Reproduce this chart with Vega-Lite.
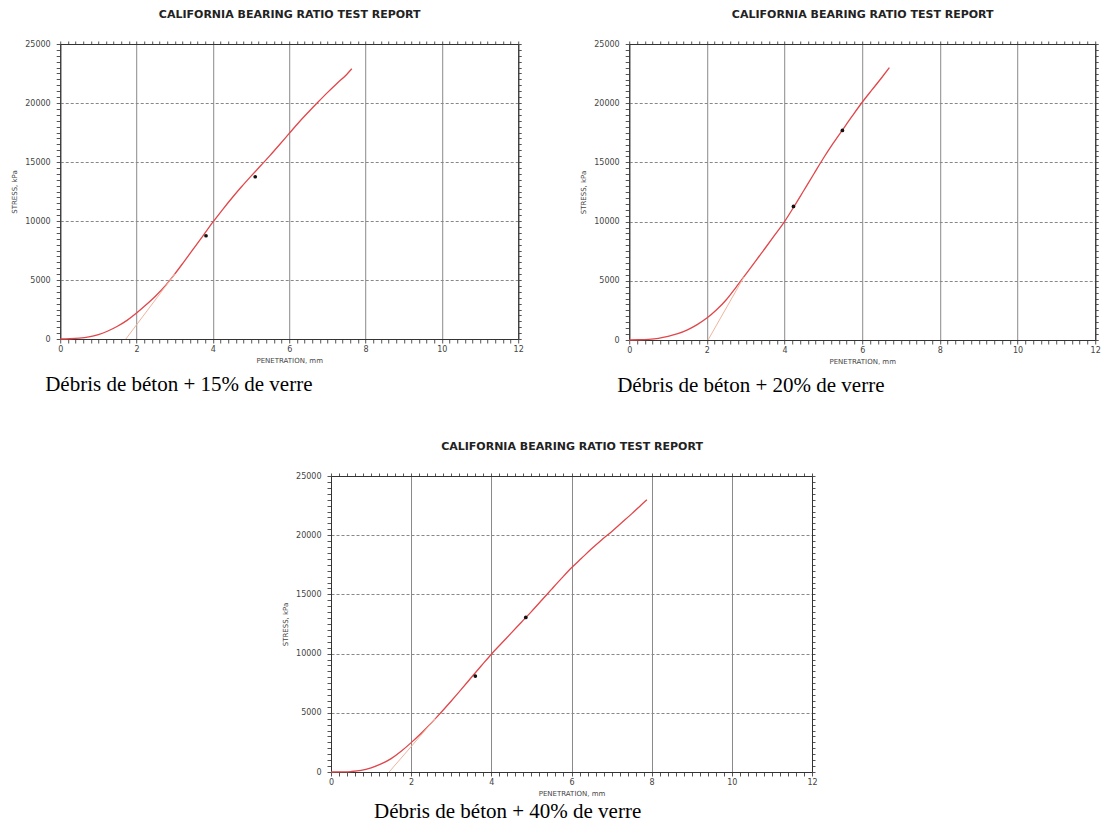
{
  "$schema": "https://vega.github.io/schema/vega-lite/v6.json",
  "background": "white",
  "padding": {"left": 10, "top": 8, "right": 0, "bottom": 0},
  "autosize": {"type": "pad"},
  "datasets": {
    "c15": [{"pen":0,"stress":0},{"pen":0.25,"stress":20},{"pen":0.5,"stress":70},{"pen":0.75,"stress":180},{"pen":1,"stress":380},{"pen":1.25,"stress":680},{"pen":1.5,"stress":1080},{"pen":1.75,"stress":1580},{"pen":2,"stress":2200},{"pen":2.25,"stress":2900},{"pen":2.5,"stress":3650},{"pen":2.75,"stress":4500},{"pen":3,"stress":5500},{"pen":3.25,"stress":6580},{"pen":3.5,"stress":7680},{"pen":3.75,"stress":8790},{"pen":4,"stress":9900},{"pen":4.25,"stress":10950},{"pen":4.5,"stress":11950},{"pen":4.75,"stress":12900},{"pen":5,"stress":13800},{"pen":5.25,"stress":14680},{"pen":5.5,"stress":15560},{"pen":5.75,"stress":16480},{"pen":6,"stress":17420},{"pen":6.25,"stress":18350},{"pen":6.5,"stress":19220},{"pen":6.75,"stress":20060},{"pen":7,"stress":20880},{"pen":7.25,"stress":21660},{"pen":7.5,"stress":22400},{"pen":7.64,"stress":22900}],
    "t15": [{"pen":1.72,"stress":0},{"pen":3.0,"stress":5500}],
    "p15": [{"pen":3.82,"stress":8750},{"pen":5.11,"stress":13750}],
    "c20": [{"pen":0,"stress":0},{"pen":0.25,"stress":20},{"pen":0.5,"stress":60},{"pen":0.75,"stress":140},{"pen":1,"stress":300},{"pen":1.25,"stress":530},{"pen":1.5,"stress":860},{"pen":1.75,"stress":1300},{"pen":2,"stress":1850},{"pen":2.25,"stress":2550},{"pen":2.5,"stress":3400},{"pen":2.75,"stress":4450},{"pen":3,"stress":5550},{"pen":3.25,"stress":6650},{"pen":3.5,"stress":7750},{"pen":3.75,"stress":8870},{"pen":4,"stress":10000},{"pen":4.25,"stress":11300},{"pen":4.5,"stress":12650},{"pen":4.75,"stress":14000},{"pen":5,"stress":15350},{"pen":5.25,"stress":16600},{"pen":5.5,"stress":17780},{"pen":5.75,"stress":18950},{"pen":6,"stress":20080},{"pen":6.25,"stress":21120},{"pen":6.5,"stress":22150},{"pen":6.7,"stress":23000}],
    "t20": [{"pen":2.03,"stress":0},{"pen":2.95,"stress":5300}],
    "p20": [{"pen":4.23,"stress":11280},{"pen":5.49,"stress":17700}],
    "c40": [{"pen":0,"stress":0},{"pen":0.25,"stress":10},{"pen":0.5,"stress":40},{"pen":0.75,"stress":130},{"pen":1,"stress":350},{"pen":1.25,"stress":680},{"pen":1.5,"stress":1130},{"pen":1.75,"stress":1750},{"pen":2,"stress":2480},{"pen":2.25,"stress":3280},{"pen":2.5,"stress":4130},{"pen":2.75,"stress":5050},{"pen":3,"stress":6000},{"pen":3.25,"stress":6980},{"pen":3.5,"stress":7980},{"pen":3.75,"stress":8970},{"pen":4,"stress":9950},{"pen":4.25,"stress":10850},{"pen":4.5,"stress":11750},{"pen":4.75,"stress":12650},{"pen":5,"stress":13550},{"pen":5.25,"stress":14480},{"pen":5.5,"stress":15420},{"pen":5.75,"stress":16350},{"pen":6,"stress":17250},{"pen":6.25,"stress":18050},{"pen":6.5,"stress":18850},{"pen":6.75,"stress":19600},{"pen":7,"stress":20300},{"pen":7.25,"stress":21050},{"pen":7.5,"stress":21800},{"pen":7.75,"stress":22600},{"pen":7.88,"stress":23000}],
    "t40": [{"pen":1.45,"stress":0},{"pen":2.6,"stress":4500}],
    "p40": [{"pen":3.6,"stress":8100},{"pen":4.86,"stress":13050}]
  },
  "vconcat": [
    {
      "hconcat": [
        {
          "width": 458, "height": 295,
          "title": {"text": "Débris de béton + 15% de verre", "orient": "bottom", "anchor": "start", "frame": "group", "dx": -15, "offset": 11, "font": "Liberation Serif", "fontSize": 21, "fontWeight": "normal", "color": "#000"},
          "layer": [
            {"data": {"name": "c15"}, "mark": {"type": "line", "color": "#e0464a", "strokeWidth": 1.3, "interpolate": "monotone"},
             "encoding": {
               "x": {"field": "pen", "type": "quantitative", "scale": {"domain": [0, 12], "nice": false},
                 "axis": {"orient": "bottom", "tickCount": 200, "values": [0,0.2,0.4,0.6,0.8,1,1.2,1.4,1.6,1.8,2,2.2,2.4,2.6,2.8,3,3.2,3.4,3.6,3.8,4,4.2,4.4,4.6,4.8,5,5.2,5.4,5.6,5.8,6,6.2,6.4,6.6,6.8,7,7.2,7.4,7.6,7.8,8,8.2,8.4,8.6,8.8,9,9.2,9.4,9.6,9.8,10,10.2,10.4,10.6,10.8,11,11.2,11.4,11.6,11.8,12],
                   "labelExpr": "abs(datum.value/2-round(datum.value/2))<0.001 ? format(datum.value, 'd') : ''",
                   "labelOverlap": false, "labelFlush": false, "labelFont": "DejaVu Sans", "labelFontSize": 8, "labelColor": "#444", "labelPadding": 2,
                   "tickSize": 4, "tickColor": "#555", "domainColor": "#333",
                   "grid": true, "gridColor": "#8a8a8a",
                   "gridOpacity": {"condition": {"test": "abs(datum.value/2-round(datum.value/2))<0.001", "value": 1}, "value": 0},
                   "title": "PENETRATION, mm", "titleFont": "DejaVu Sans", "titleFontSize": 7, "titleFontWeight": "normal", "titleColor": "#444", "titlePadding": 3}},
               "y": {"field": "stress", "type": "quantitative", "scale": {"domain": [0, 25000], "nice": false},
                 "axis": {"orient": "left", "tickCount": 200, "values": [0,500,1000,1500,2000,2500,3000,3500,4000,4500,5000,5500,6000,6500,7000,7500,8000,8500,9000,9500,10000,10500,11000,11500,12000,12500,13000,13500,14000,14500,15000,15500,16000,16500,17000,17500,18000,18500,19000,19500,20000,20500,21000,21500,22000,22500,23000,23500,24000,24500,25000],
                   "labelExpr": "datum.value % 5000 == 0 ? format(datum.value, 'd') : ''",
                   "labelOverlap": false, "labelFlush": false, "labelFont": "DejaVu Sans", "labelFontSize": 8, "labelColor": "#444", "labelPadding": 6,
                   "tickSize": 4, "tickColor": "#555", "domainColor": "#333",
                   "grid": true, "gridColor": "#888", "gridDash": [3, 2],
                   "gridOpacity": {"condition": {"test": "datum.value % 5000 == 0", "value": 1}, "value": 0},
                   "title": "STRESS, kPa", "titleFont": "DejaVu Sans", "titleFontSize": 7, "titleFontWeight": "normal", "titleColor": "#444", "titlePadding": 7}}
             }},
            {"data": {"name": "t15"}, "mark": {"type": "line", "color": "#f0b49c", "strokeWidth": 1},
             "encoding": {
               "x": {"field": "pen", "type": "quantitative", "axis": {"orient": "top", "tickCount": 200, "values": [0,0.2,0.4,0.6,0.8,1,1.2,1.4,1.6,1.8,2,2.2,2.4,2.6,2.8,3,3.2,3.4,3.6,3.8,4,4.2,4.4,4.6,4.8,5,5.2,5.4,5.6,5.8,6,6.2,6.4,6.6,6.8,7,7.2,7.4,7.6,7.8,8,8.2,8.4,8.6,8.8,9,9.2,9.4,9.6,9.8,10,10.2,10.4,10.6,10.8,11,11.2,11.4,11.6,11.8,12], "labels": false, "grid": false, "tickSize": 3, "tickColor": "#555", "domainColor": "#333", "title": "CALIFORNIA BEARING RATIO TEST REPORT", "titleFont": "DejaVu Sans", "titleFontSize": 11, "titleFontWeight": "bold", "titleColor": "#222", "titlePadding": 21}},
               "y": {"field": "stress", "type": "quantitative", "axis": {"orient": "right", "tickCount": 200, "values": [0,500,1000,1500,2000,2500,3000,3500,4000,4500,5000,5500,6000,6500,7000,7500,8000,8500,9000,9500,10000,10500,11000,11500,12000,12500,13000,13500,14000,14500,15000,15500,16000,16500,17000,17500,18000,18500,19000,19500,20000,20500,21000,21500,22000,22500,23000,23500,24000,24500,25000], "labels": false, "grid": false, "tickSize": 3, "tickColor": "#555", "domainColor": "#333", "title": null}}
             }},
            {"data": {"name": "p15"}, "mark": {"type": "point", "filled": true, "color": "#111", "size": 14, "opacity": 1},
             "encoding": {"x": {"field": "pen", "type": "quantitative", "axis": null}, "y": {"field": "stress", "type": "quantitative", "axis": null}}}
          ],
          "resolve": {"axis": {"x": "independent", "y": "independent"}}
        },
        {
          "width": 466, "height": 296,
          "title": {"text": "Débris de béton + 20% de verre", "orient": "bottom", "anchor": "start", "frame": "group", "dx": -12, "offset": 11, "font": "Liberation Serif", "fontSize": 21, "fontWeight": "normal", "color": "#000"},
          "layer": [
            {"data": {"name": "c20"}, "mark": {"type": "line", "color": "#e0464a", "strokeWidth": 1.3, "interpolate": "monotone"},
             "encoding": {
               "x": {"field": "pen", "type": "quantitative", "scale": {"domain": [0, 12], "nice": false},
                 "axis": {"orient": "bottom", "tickCount": 200, "values": [0,0.2,0.4,0.6,0.8,1,1.2,1.4,1.6,1.8,2,2.2,2.4,2.6,2.8,3,3.2,3.4,3.6,3.8,4,4.2,4.4,4.6,4.8,5,5.2,5.4,5.6,5.8,6,6.2,6.4,6.6,6.8,7,7.2,7.4,7.6,7.8,8,8.2,8.4,8.6,8.8,9,9.2,9.4,9.6,9.8,10,10.2,10.4,10.6,10.8,11,11.2,11.4,11.6,11.8,12],
                   "labelExpr": "abs(datum.value/2-round(datum.value/2))<0.001 ? format(datum.value, 'd') : ''",
                   "labelOverlap": false, "labelFlush": false, "labelFont": "DejaVu Sans", "labelFontSize": 8, "labelColor": "#444", "labelPadding": 2,
                   "tickSize": 4, "tickColor": "#555", "domainColor": "#333",
                   "grid": true, "gridColor": "#8a8a8a",
                   "gridOpacity": {"condition": {"test": "abs(datum.value/2-round(datum.value/2))<0.001", "value": 1}, "value": 0},
                   "title": "PENETRATION, mm", "titleFont": "DejaVu Sans", "titleFontSize": 7, "titleFontWeight": "normal", "titleColor": "#444", "titlePadding": 3}},
               "y": {"field": "stress", "type": "quantitative", "scale": {"domain": [0, 25000], "nice": false},
                 "axis": {"orient": "left", "tickCount": 200, "values": [0,500,1000,1500,2000,2500,3000,3500,4000,4500,5000,5500,6000,6500,7000,7500,8000,8500,9000,9500,10000,10500,11000,11500,12000,12500,13000,13500,14000,14500,15000,15500,16000,16500,17000,17500,18000,18500,19000,19500,20000,20500,21000,21500,22000,22500,23000,23500,24000,24500,25000],
                   "labelExpr": "datum.value % 5000 == 0 ? format(datum.value, 'd') : ''",
                   "labelOverlap": false, "labelFlush": false, "labelFont": "DejaVu Sans", "labelFontSize": 8, "labelColor": "#444", "labelPadding": 6,
                   "tickSize": 4, "tickColor": "#555", "domainColor": "#333",
                   "grid": true, "gridColor": "#888", "gridDash": [3, 2],
                   "gridOpacity": {"condition": {"test": "datum.value % 5000 == 0", "value": 1}, "value": 0},
                   "title": "STRESS, kPa", "titleFont": "DejaVu Sans", "titleFontSize": 7, "titleFontWeight": "normal", "titleColor": "#444", "titlePadding": 7}}
             }},
            {"data": {"name": "t20"}, "mark": {"type": "line", "color": "#f0b49c", "strokeWidth": 1},
             "encoding": {
               "x": {"field": "pen", "type": "quantitative", "axis": {"orient": "top", "tickCount": 200, "values": [0,0.2,0.4,0.6,0.8,1,1.2,1.4,1.6,1.8,2,2.2,2.4,2.6,2.8,3,3.2,3.4,3.6,3.8,4,4.2,4.4,4.6,4.8,5,5.2,5.4,5.6,5.8,6,6.2,6.4,6.6,6.8,7,7.2,7.4,7.6,7.8,8,8.2,8.4,8.6,8.8,9,9.2,9.4,9.6,9.8,10,10.2,10.4,10.6,10.8,11,11.2,11.4,11.6,11.8,12], "labels": false, "grid": false, "tickSize": 3, "tickColor": "#555", "domainColor": "#333", "title": "CALIFORNIA BEARING RATIO TEST REPORT", "titleFont": "DejaVu Sans", "titleFontSize": 11, "titleFontWeight": "bold", "titleColor": "#222", "titlePadding": 21}},
               "y": {"field": "stress", "type": "quantitative", "axis": {"orient": "right", "tickCount": 200, "values": [0,500,1000,1500,2000,2500,3000,3500,4000,4500,5000,5500,6000,6500,7000,7500,8000,8500,9000,9500,10000,10500,11000,11500,12000,12500,13000,13500,14000,14500,15000,15500,16000,16500,17000,17500,18000,18500,19000,19500,20000,20500,21000,21500,22000,22500,23000,23500,24000,24500,25000], "labels": false, "grid": false, "tickSize": 3, "tickColor": "#555", "domainColor": "#333", "title": null}}
             }},
            {"data": {"name": "p20"}, "mark": {"type": "point", "filled": true, "color": "#111", "size": 14, "opacity": 1},
             "encoding": {"x": {"field": "pen", "type": "quantitative", "axis": null}, "y": {"field": "stress", "type": "quantitative", "axis": null}}}
          ],
          "resolve": {"axis": {"x": "independent", "y": "independent"}}
        }
      ],
      "spacing": 55
    },
    {
      "hconcat": [
        {
          "width": 481, "height": 296,
          "title": {"text": "Débris de béton + 40% de verre", "orient": "bottom", "anchor": "start", "frame": "group", "dx": 43, "offset": 5, "font": "Liberation Serif", "fontSize": 21, "fontWeight": "normal", "color": "#000"},
          "layer": [
            {"data": {"name": "c40"}, "mark": {"type": "line", "color": "#e0464a", "strokeWidth": 1.3, "interpolate": "monotone"},
             "encoding": {
               "x": {"field": "pen", "type": "quantitative", "scale": {"domain": [0, 12], "nice": false},
                 "axis": {"orient": "bottom", "tickCount": 200, "values": [0,0.2,0.4,0.6,0.8,1,1.2,1.4,1.6,1.8,2,2.2,2.4,2.6,2.8,3,3.2,3.4,3.6,3.8,4,4.2,4.4,4.6,4.8,5,5.2,5.4,5.6,5.8,6,6.2,6.4,6.6,6.8,7,7.2,7.4,7.6,7.8,8,8.2,8.4,8.6,8.8,9,9.2,9.4,9.6,9.8,10,10.2,10.4,10.6,10.8,11,11.2,11.4,11.6,11.8,12],
                   "labelExpr": "abs(datum.value/2-round(datum.value/2))<0.001 ? format(datum.value, 'd') : ''",
                   "labelOverlap": false, "labelFlush": false, "labelFont": "DejaVu Sans", "labelFontSize": 8, "labelColor": "#444", "labelPadding": 2,
                   "tickSize": 4, "tickColor": "#555", "domainColor": "#333",
                   "grid": true, "gridColor": "#8a8a8a",
                   "gridOpacity": {"condition": {"test": "abs(datum.value/2-round(datum.value/2))<0.001", "value": 1}, "value": 0},
                   "title": "PENETRATION, mm", "titleFont": "DejaVu Sans", "titleFontSize": 7, "titleFontWeight": "normal", "titleColor": "#444", "titlePadding": 3}},
               "y": {"field": "stress", "type": "quantitative", "scale": {"domain": [0, 25000], "nice": false},
                 "axis": {"orient": "left", "tickCount": 200, "values": [0,500,1000,1500,2000,2500,3000,3500,4000,4500,5000,5500,6000,6500,7000,7500,8000,8500,9000,9500,10000,10500,11000,11500,12000,12500,13000,13500,14000,14500,15000,15500,16000,16500,17000,17500,18000,18500,19000,19500,20000,20500,21000,21500,22000,22500,23000,23500,24000,24500,25000],
                   "labelExpr": "datum.value % 5000 == 0 ? format(datum.value, 'd') : ''",
                   "labelOverlap": false, "labelFlush": false, "labelFont": "DejaVu Sans", "labelFontSize": 8, "labelColor": "#444", "labelPadding": 6,
                   "tickSize": 4, "tickColor": "#555", "domainColor": "#333",
                   "grid": true, "gridColor": "#888", "gridDash": [3, 2],
                   "gridOpacity": {"condition": {"test": "datum.value % 5000 == 0", "value": 1}, "value": 0},
                   "title": "STRESS, kPa", "titleFont": "DejaVu Sans", "titleFontSize": 7, "titleFontWeight": "normal", "titleColor": "#444", "titlePadding": 7}}
             }},
            {"data": {"name": "t40"}, "mark": {"type": "line", "color": "#f0b49c", "strokeWidth": 1},
             "encoding": {
               "x": {"field": "pen", "type": "quantitative", "axis": {"orient": "top", "tickCount": 200, "values": [0,0.2,0.4,0.6,0.8,1,1.2,1.4,1.6,1.8,2,2.2,2.4,2.6,2.8,3,3.2,3.4,3.6,3.8,4,4.2,4.4,4.6,4.8,5,5.2,5.4,5.6,5.8,6,6.2,6.4,6.6,6.8,7,7.2,7.4,7.6,7.8,8,8.2,8.4,8.6,8.8,9,9.2,9.4,9.6,9.8,10,10.2,10.4,10.6,10.8,11,11.2,11.4,11.6,11.8,12], "labels": false, "grid": false, "tickSize": 3, "tickColor": "#555", "domainColor": "#333", "title": "CALIFORNIA BEARING RATIO TEST REPORT", "titleFont": "DejaVu Sans", "titleFontSize": 11, "titleFontWeight": "bold", "titleColor": "#222", "titlePadding": 21}},
               "y": {"field": "stress", "type": "quantitative", "axis": {"orient": "right", "tickCount": 200, "values": [0,500,1000,1500,2000,2500,3000,3500,4000,4500,5000,5500,6000,6500,7000,7500,8000,8500,9000,9500,10000,10500,11000,11500,12000,12500,13000,13500,14000,14500,15000,15500,16000,16500,17000,17500,18000,18500,19000,19500,20000,20500,21000,21500,22000,22500,23000,23500,24000,24500,25000], "labels": false, "grid": false, "tickSize": 3, "tickColor": "#555", "domainColor": "#333", "title": null}}
             }},
            {"data": {"name": "p40"}, "mark": {"type": "point", "filled": true, "color": "#111", "size": 14, "opacity": 1},
             "encoding": {"x": {"field": "pen", "type": "quantitative", "axis": null}, "y": {"field": "stress", "type": "quantitative", "axis": null}}}
          ],
          "resolve": {"axis": {"x": "independent", "y": "independent"}}
        },
        {
          "width": 12, "height": 1,
          "data": {"values": []},
          "mark": {"type": "point"},
          "encoding": {},
          "view": {"stroke": null}
        }
      ],
      "spacing": 0
    }
  ],
  "spacing": 43,
  "center": true,
  "config": {"view": {"stroke": "#333"}}
}
